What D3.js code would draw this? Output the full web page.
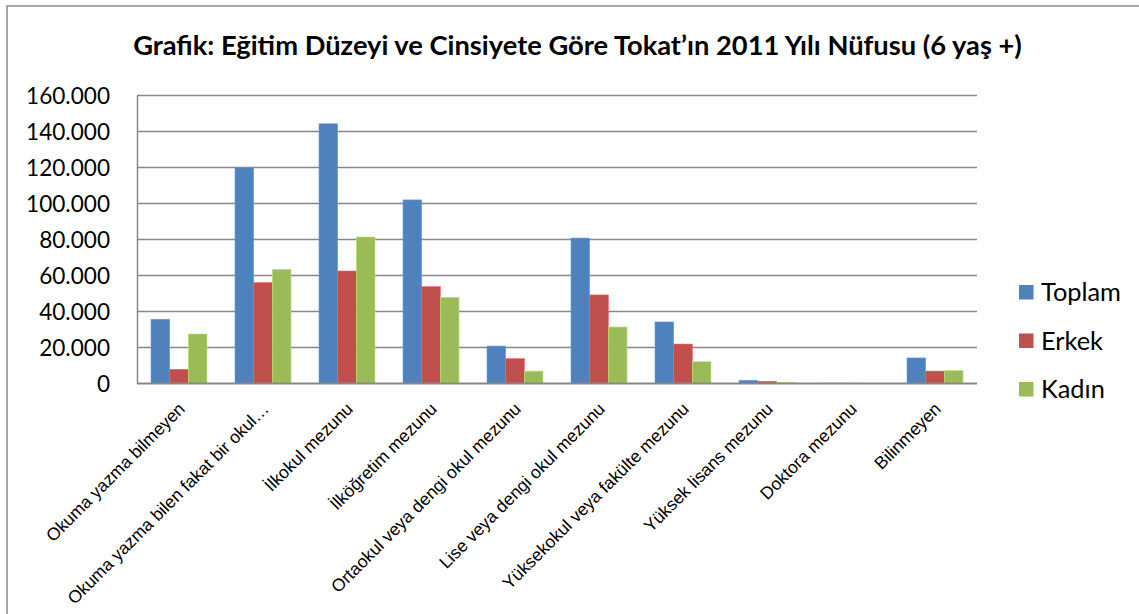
<!DOCTYPE html>
<html><head><meta charset="utf-8">
<script src="https://cdn.jsdelivr.net/npm/d3@7"></script>
<style>body{margin:0;background:#fff}svg{display:block}</style>
</head><body>
<svg id="c" width="1139" height="614"></svg>
<script>
const categories = ["Okuma yazma bilmeyen","Okuma yazma bilen fakat bir okul…","İlkokul mezunu","İlköğretim mezunu","Ortaokul veya dengi okul mezunu","Lise veya dengi okul mezunu","Yüksekokul veya fakülte mezunu","Yüksek lisans mezunu","Doktora mezunu","Bilinmeyen"];
const seriesNames = ["Toplam","Erkek","Kadın"];
const toplam = [35700,119900,144300,102000,20800,80800,34200,1800,250,14200];
const erkek  = [7900,56000,62500,53800,13800,49200,21900,1200,180,6900];
const kadin  = [27500,63400,81400,47900,6900,31400,12100,500,70,7200];
const yTicks = [0,20000,40000,60000,80000,100000,120000,140000,160000];
const colors = ["#4F81BD","#C0504D","#9BBB59"];
const title = "Grafik: Eğitim Düzeyi ve Cinsiyete Göre Tokat’ın 2011 Yılı Nüfusu (6 yaş +)";

const values = [toplam, erkek, kadin];
const svg = d3.select("#c");
const W = 1139, H = 614;
const L = 137, R = 977, T = 95.5, B = 383.5;

function fit(sel, target){
  const n = sel.node(); const fs = parseFloat(sel.attr("font-size"));
  const w = n.getComputedTextLength(); sel.attr("font-size", (fs*target/w).toFixed(2));
}

// frame
svg.append("rect").attr("x",7).attr("y",6).attr("width",W).attr("height",H)
  .attr("fill","#fff").attr("stroke","#898989").attr("stroke-width",1.5);

// title
const t = svg.append("text").attr("x",(133+1022)/2).attr("y",55).attr("text-anchor","middle")
  .attr("font-family","Lato, 'Open Sans', sans-serif").attr("font-weight","bold").attr("font-size",26)
  .attr("fill","#000").text(title);
fit(t, 889);

const x = d3.scaleBand().domain(categories).range([L,R]).paddingInner(0).paddingOuter(0);
const xs = d3.scaleBand().domain(seriesNames).range([0,x.bandwidth()]).paddingInner(0).paddingOuter(0.75);
const y = d3.scaleLinear().domain([0,160000]).range([B,T]);

// gridlines
svg.append("g").selectAll("line").data(yTicks.filter(d=>d>0)).join("line")
  .attr("x1",L).attr("x2",R).attr("y1",d=>y(d)).attr("y2",d=>y(d))
  .attr("stroke","#878787").attr("stroke-width",1.5);

// y axis
const ya = svg.append("g").attr("transform",`translate(${L},0)`)
  .call(d3.axisLeft(y).tickValues(yTicks).tickSize(0).tickPadding(27)
    .tickFormat(d=>d===0?"0":d3.format(",")(d).replace(/,/g,".")));
ya.select(".domain").attr("stroke","#878787").attr("stroke-width",1.5);
ya.selectAll("text").attr("font-family","Lato, 'Open Sans', sans-serif").attr("font-size",22).attr("fill","#000").attr("dy","0.36em");
const t160 = ya.selectAll("text").filter(d=>d===160000);
const fs0 = 22, w0 = t160.node().getComputedTextLength();
ya.selectAll("text").attr("font-size",(fs0*84/w0).toFixed(2));

// bars
const g = svg.append("g");
categories.forEach((c,i)=>{
  seriesNames.forEach((s,j)=>{
    const v = values[j][i];
    g.append("rect").attr("x",x(c)+xs(s)).attr("width",xs.bandwidth())
      .attr("y",y(v)).attr("height",B-y(v)).attr("fill",colors[j])
      .attr("stroke",d3.color(colors[j]).brighter(0.6)).attr("stroke-width",0.6);
  });
});

// x axis line
svg.append("line").attr("x1",L).attr("x2",R).attr("y1",B).attr("y2",B)
  .attr("stroke","#878787").attr("stroke-width",2);

// x labels
svg.append("g").selectAll("text").data(categories).join("text")
  .attr("transform",d=>`translate(${x(d)+x.bandwidth()/2+7},410) rotate(-45)`)
  .attr("text-anchor","end").attr("font-family","'Liberation Sans', Arial, sans-serif")
  .attr("font-size",17.5).attr("fill","#000").text(d=>d);

// legend
const lg = svg.append("g");
let lfs = 23;
seriesNames.forEach((s,j)=>{
  const cy = 292 + j*48.5;
  lg.append("rect").attr("x",1019).attr("y",cy-7).attr("width",14.5).attr("height",14.5).attr("fill",colors[j]);
  const tt = lg.append("text").attr("x",1041).attr("y",cy).attr("dy","0.36em")
    .attr("font-family","Lato, 'Open Sans', sans-serif").attr("font-size",lfs).attr("fill","#000").text(s);
  if(j===0){ fit(tt,80); lfs = tt.attr("font-size"); }
});
</script>
</body></html>
